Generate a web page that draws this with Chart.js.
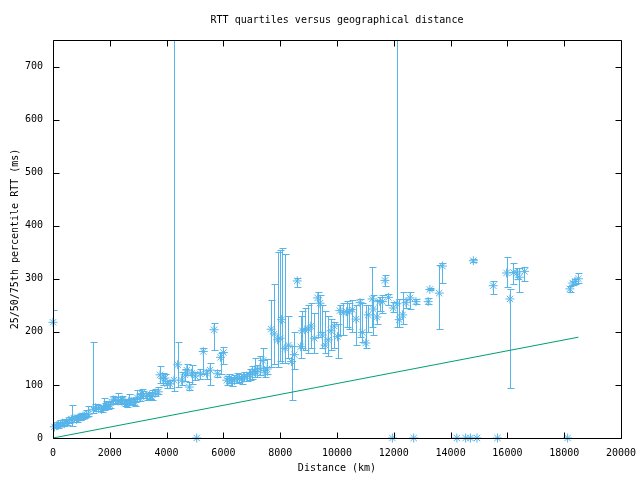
<!DOCTYPE html>
<html>
<head>
<meta charset="utf-8">
<title>RTT quartiles versus geographical distance</title>
<script src="https://cdn.jsdelivr.net/npm/chart.js@4.4.1/dist/chart.umd.min.js"></script>
<style>
  html, body { margin: 0; padding: 0; background: #fff; }
  #rtt-wrap { width: 640px; height: 480px; position: relative; }
</style>
</head>
<body>
<div id="rtt-wrap"><canvas id="rtt-chart"></canvas></div>
<script>
// Distance of each measured destination (km)
const distances = [
  0, 50, 130, 190, 260, 330, 400, 480, 560, 660, 740, 830, 900, 950, 1030, 1100, 1170, 1240,
  1420, 1500, 1600, 1710, 1780, 1850, 1930, 2000, 2120, 2200, 2300, 2380, 2440, 2520, 2590,
  2670, 2750, 2820, 2890, 2960, 3060, 3120, 3180, 3300, 3400, 3475, 3590, 3710, 3770, 3870,
  3940, 4030, 4120, 4260, 4390, 4530, 4650, 4710, 4800, 4880, 5000, 5060, 5180, 5290, 5410,
  5530, 5670, 5790, 5900, 6000, 6120, 6200, 6290, 6380, 6470, 6560, 6640, 6720, 6820, 6920,
  7010, 7100, 7180, 7290, 7390, 7460, 7540, 7680, 7790, 7910, 8000, 8050, 8170, 8290, 8400,
  8500, 8600, 8720, 8780, 8870, 8990, 9080, 9200, 9320, 9400, 9480, 9580, 9690, 9790, 9900,
  10020, 10100, 10220, 10340, 10430, 10540, 10670, 10810, 10890, 11010, 11100, 11240, 11280,
  11400, 11510, 11600, 11690, 11810, 11950, 11980, 12110, 12190, 12310, 12430, 12570, 12700,
  12780, 13210, 13270, 13600, 13710, 14220, 14530, 14700, 14800, 14930, 15500, 15650, 15970,
  16090, 16210, 16330, 16420, 16600, 18120, 18200, 18300, 18380, 18500
];
// Median RTT (ms)
const rttMedian = [
  218, 21, 23, 24, 26, 28, 27, 29, 33, 35, 36, 35, 38, 39, 40, 41, 44, 45,
  54, 57, 56, 54, 58, 59, 60, 62, 72, 71, 70, 71, 72, 66, 65,
  69, 69, 67, 67, 76, 75, 84, 81, 78, 80, 78, 84, 87, 119, 112,
  113, 102, 102, 109, 138, 109, 119, 128, 96, 122, 117, 0, 121, 163, 122,
  128, 204, 121, 152, 161, 109, 112, 106, 110, 113, 112, 111, 116, 116, 119,
  122, 125, 125, 131, 146, 123, 130, 205, 196, 185, 188, 223, 169, 175, 144,
  157, 296, 172, 202, 204, 205, 211, 188, 264, 254, 194, 175, 185, 202, 211,
  191, 240, 236, 238, 238, 242, 224, 255, 199, 179, 232, 262, 243,
  228, 257, 257, 297, 265, 0, 245, 253, 223, 232, 255, 264, 0,
  257, 257, 280, 273, 324, 0, 0, 0, 334, 0, 287, 0, 311,
  262, 312, 311, 303, 314, 0, 281, 292, 295, 300
];
// 25th percentile RTT (ms)
const rttQ25 = [
  200, 18, 20, 19, 22, 24, 22, 25, 28, 22, 30, 31, 33, 34, 36, 37, 40, 41,
  48, 50, 51, 49, 52, 54, 55, 57, 65, 66, 64, 65, 66, 60, 58,
  63, 64, 62, 61, 70, 70, 76, 75, 72, 74, 71, 80, 82, 103, 100,
  104, 95, 94, 89, 97, 100, 108, 118, 90, 102, 110, 0, 112, 120, 112,
  100, 165, 115, 120, 140, 100, 104, 98, 103, 104, 105, 102, 108, 108, 110,
  112, 115, 115, 118, 128, 115, 120, 134, 140, 134, 145, 142, 141, 150, 72,
  130, 285, 150, 170, 165, 160, 170, 160, 190, 200, 170, 160, 155, 165, 170,
  150, 195, 195, 210, 205, 200, 175, 190, 180, 170, 200, 210, 195,
  215, 240, 235, 287, 250, 0, 238, 209, 210, 215, 245, 243, 0,
  252, 252, 278, 205, 292, 0, 0, 0, 332, 0, 271, 0, 285,
  94, 290, 300, 275, 295, 0, 276, 288, 290, 293
];
// 75th percentile RTT (ms)
const rttQ75 = [
  242, 26, 30, 28, 34, 33, 36, 35, 40, 62, 41, 43, 44, 45, 47, 48, 52, 60,
  180, 64, 63, 61, 75, 70, 68, 70, 80, 78, 84, 77, 80, 74, 72,
  82, 76, 73, 74, 90, 82, 92, 88, 84, 86, 90, 92, 96, 136, 122,
  120, 108, 110, 900, 180, 125, 130, 140, 105, 138, 124, 0, 130, 170, 128,
  142, 216, 128, 160, 172, 117, 120, 115, 118, 122, 120, 121, 125, 124, 130,
  135, 150, 137, 155, 170, 134, 148, 260, 290, 350, 355, 358, 347, 230, 174,
  200, 302, 230, 240, 245, 250, 255, 235, 275, 270, 250, 240, 230, 225, 218,
  215, 250, 255, 258, 255, 260, 250, 262, 255, 250, 250, 322, 270,
  260, 265, 270, 308, 272, 0, 256, 900, 262, 275, 262, 276, 0,
  262, 264, 282, 326, 330, 0, 0, 0, 338, 0, 295, 0, 341,
  281, 330, 320, 320, 322, 0, 286, 296, 300, 310
];
// Propagation lower bound line (km, ms)
const boundDist = [0, 18500];
const boundRtt = [0, 190];
// Axis tick labels
const xTickValues = [0, 2000, 4000, 6000, 8000, 10000, 12000, 14000, 16000, 18000, 20000];
const yTickValues = [0, 100, 200, 300, 400, 500, 600, 700];

const BLUE = '#56b4e9';
const GREEN = '#009e73';
const FONT = { family: "'DejaVu Sans Mono', monospace", size: 10 };

/**
 * Draws the quartile error bars, the plot border, the inward ticks and the title.
 */
const gnuplotFrame = {
  id: 'gnuplotFrame',
  beforeDatasetsDraw(chart) {
    const { ctx, chartArea: a, scales: { x, y } } = chart;
    ctx.save();
    ctx.beginPath();
    ctx.rect(a.left, a.top, a.right - a.left, a.bottom - a.top);
    ctx.clip();
    ctx.strokeStyle = BLUE;
    ctx.lineWidth = 1;
    ctx.beginPath();
    distances.forEach((d, i) => {
      if (rttQ25[i] === rttQ75[i]) return;
      const px = Math.round(x.getPixelForValue(d)) + 0.5;
      const lo = Math.round(y.getPixelForValue(rttQ25[i])) + 0.5;
      const hi = Math.round(y.getPixelForValue(rttQ75[i])) + 0.5;
      ctx.moveTo(px, lo); ctx.lineTo(px, hi);
      ctx.moveTo(px - 3, lo); ctx.lineTo(px + 4, lo);
      ctx.moveTo(px - 3, hi); ctx.lineTo(px + 4, hi);
    });
    ctx.stroke();
    ctx.restore();
  },
  afterDraw(chart) {
    const { ctx, chartArea: a, scales: { x, y } } = chart;
    const L = Math.round(a.left) + 0.5, R = Math.round(a.right) + 0.5;
    const T = Math.round(a.top) + 0.5, B = Math.round(a.bottom) + 0.5;
    ctx.save();
    ctx.strokeStyle = '#000';
    ctx.lineWidth = 1;
    ctx.beginPath();
    ctx.rect(L, T, R - L, B - T);
    xTickValues.forEach(v => {
      const px = Math.round(x.getPixelForValue(v)) + 0.5;
      ctx.moveTo(px, B); ctx.lineTo(px, B - 6);
      ctx.moveTo(px, T); ctx.lineTo(px, T + 6);
    });
    yTickValues.forEach(v => {
      const py = Math.round(y.getPixelForValue(v)) + 0.5;
      ctx.moveTo(L, py); ctx.lineTo(L + 6, py);
      ctx.moveTo(R, py); ctx.lineTo(R - 6, py);
    });
    ctx.stroke();

    // Title centred over the plot area
    ctx.fillStyle = '#000';
    ctx.font = `${FONT.size}px ${FONT.family}`;
    ctx.textAlign = 'center';
    ctx.textBaseline = 'middle';
    ctx.fillText('RTT quartiles versus geographical distance', (a.left + a.right) / 2, 20);
    ctx.restore();
  }
};

function renderChart() {
  const ctx = document.getElementById('rtt-chart').getContext('2d');
  const points = distances.map((d, i) => ({ x: d, y: rttMedian[i] }));
  const bound = boundDist.map((d, i) => ({ x: d, y: boundRtt[i] }));

  new Chart(ctx, {
    type: 'scatter',
    data: {
      datasets: [{
        label: 'RTT median',
        data: points,
        pointStyle: 'star',
        pointRadius: 4.5,
        borderColor: BLUE,
        backgroundColor: BLUE,
        borderWidth: 1,
        clip: false,
        order: 1
      }, {
        label: 'Lower bound',
        data: bound,
        showLine: true,
        pointRadius: 0,
        borderColor: GREEN,
        borderWidth: 1,
        order: 2
      }]
    },
    options: {
      responsive: true,
      maintainAspectRatio: false,
      animation: false,
      layout: { padding: { top: 40, right: 19, left: 0, bottom: 0 } },
      plugins: {
        legend: { display: false },
        tooltip: { enabled: false }
      },
      scales: {
        x: {
          type: 'linear',
          min: 0,
          max: 20000,
          afterBuildTicks: s => { s.ticks = xTickValues.map(v => ({ value: v })); },
          afterFit: s => { s.height = 42; s.paddingLeft = 0; s.paddingRight = 0; },
          ticks: {
            color: '#000', font: FONT, padding: 9, maxRotation: 0, autoSkip: false,
            callback: v => String(v)
          },
          grid: { display: false, drawTicks: false },
          border: { display: false },
          title: { display: true, text: 'Distance (km)', color: '#000', font: FONT, padding: { top: 0, bottom: 6 } }
        },
        y: {
          type: 'linear',
          min: 0,
          max: 750,
          afterBuildTicks: s => { s.ticks = yTickValues.map(v => ({ value: v })); },
          afterFit: s => { s.width = 53; s.paddingTop = 0; s.paddingBottom = 0; },
          ticks: { color: '#000', font: FONT, padding: 10, callback: v => String(v) },
          grid: { display: false, drawTicks: false },
          border: { display: false },
          title: { display: true, text: '25/50/75th percentile RTT (ms)', color: '#000', font: FONT, padding: { top: 9, bottom: 0 } }
        }
      }
    },
    plugins: [gnuplotFrame]
  });
}

window.onload = renderChart;
</script>
</body>
</html>
